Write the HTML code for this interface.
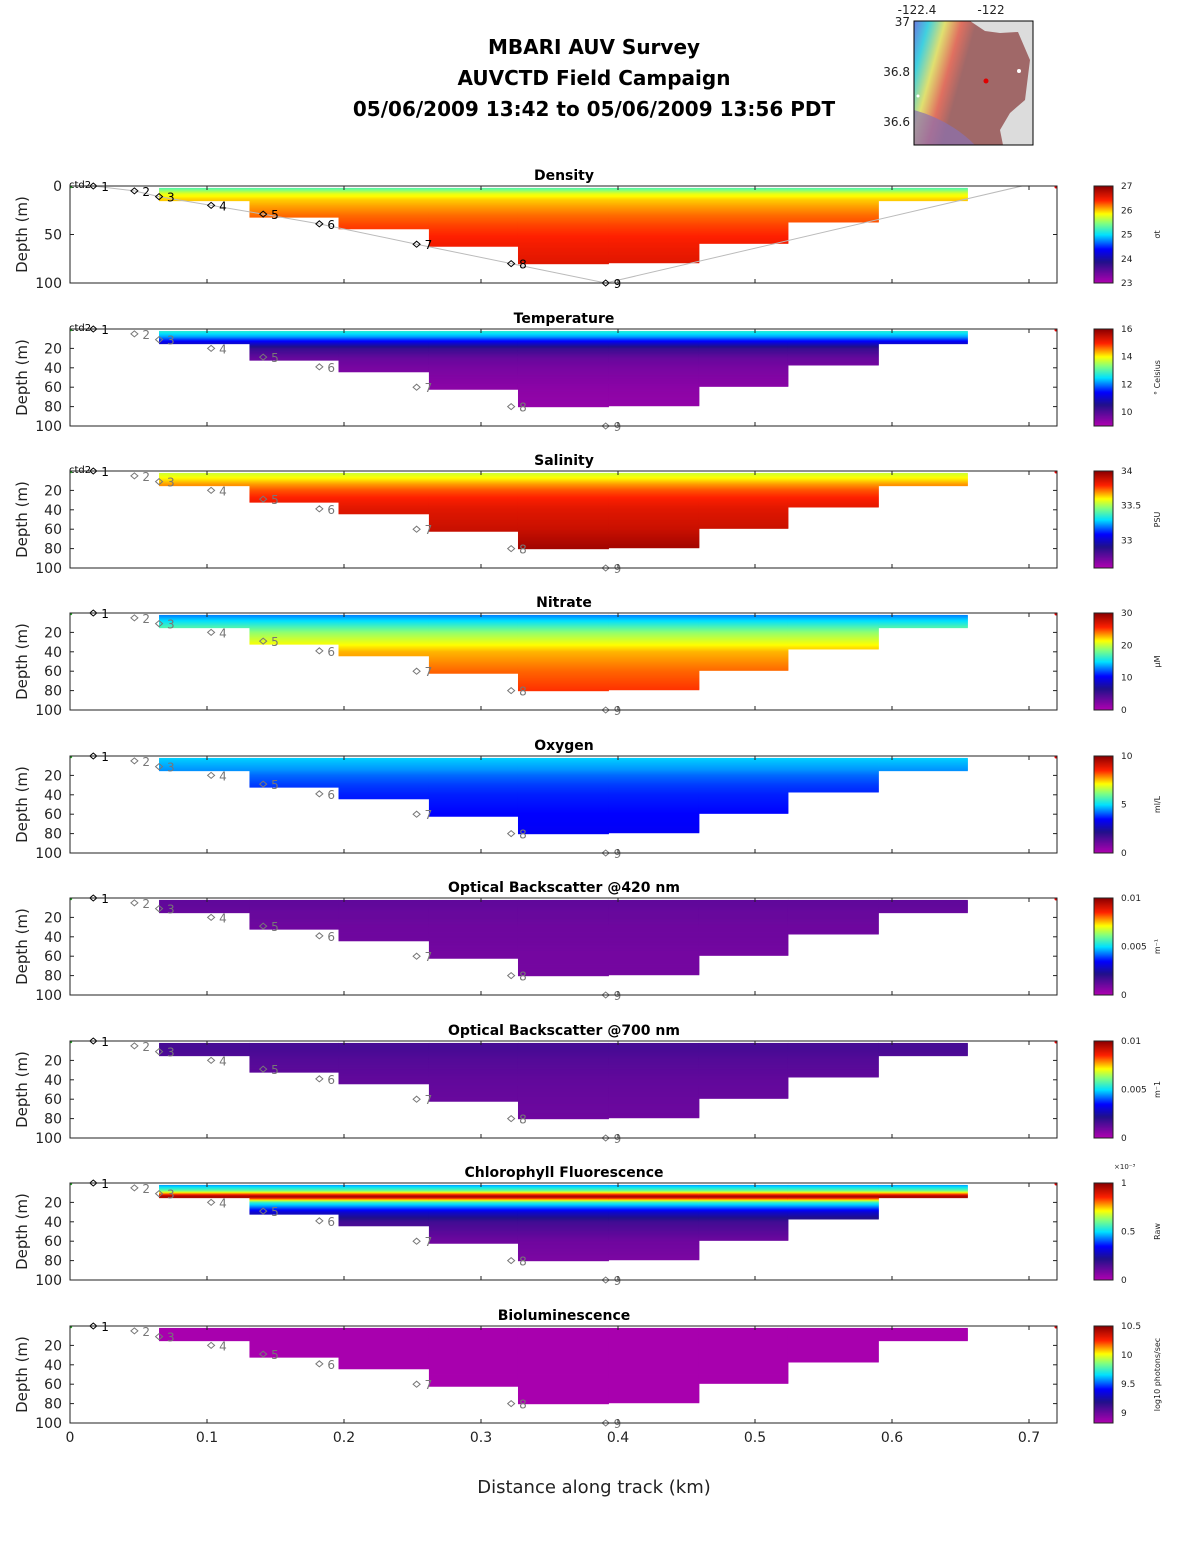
<!DOCTYPE html>
<html><head><meta charset="utf-8"><style>
body{margin:0;background:#fff;}
svg text{font-family:"DejaVu Sans","Liberation Sans",sans-serif;}
</style></head><body>
<svg id="fig" width="1188" height="1548" xmlns="http://www.w3.org/2000/svg">
<g font-weight="bold" font-size="20" text-anchor="middle">
<text x="594" y="54">MBARI AUV Survey</text>
<text x="594" y="85">AUVCTD Field Campaign</text>
<text x="594" y="116">05/06/2009 13:42  to 05/06/2009 13:56 PDT</text>
</g>
<g>
<defs>
<linearGradient id="mapg" x1="0" y1="0" x2="1" y2="0.3">
<stop offset="0" stop-color="#6a7ae0"/><stop offset="0.12" stop-color="#40d0e0"/><stop offset="0.25" stop-color="#e0e070"/><stop offset="0.38" stop-color="#e07060"/><stop offset="0.5" stop-color="#a06868"/><stop offset="1" stop-color="#a06868"/>
</linearGradient>
</defs>
<rect x="914" y="21" width="119" height="124" fill="#dcdcdc"/>
<path d="M914 21 L970 21 L985 31 L1000 33 L1018 32 L1030 60 L1025 100 L1010 113 L1000 130 L1003 145 L914 145 Z" fill="url(#mapg)"/>
<path d="M914 110 Q950 120 975 145 L914 145Z" fill="#8a70b0" opacity="0.7"/>
<rect x="914" y="21" width="119" height="124" fill="none" stroke="#000" stroke-width="1"/>
<circle cx="986" cy="81" r="2.5" fill="#e00000"/>
<circle cx="1019" cy="71" r="2" fill="#fff"/>
<circle cx="918" cy="96" r="1.5" fill="#fff"/>
<g font-size="12" fill="#222">
<text x="917" y="14" text-anchor="middle">-122.4</text>
<text x="991" y="14" text-anchor="middle">-122</text>
<text x="910" y="26" text-anchor="end">37</text>
<text x="910" y="76" text-anchor="end">36.8</text>
<text x="910" y="126" text-anchor="end">36.6</text>
</g>
</g>
<text x="594" y="1493" font-size="18" text-anchor="middle" fill="#222">Distance along track (km)</text>
</svg>
<script>
// ---- data ----
const colEdges=[0.065,0.131,0.196,0.262,0.327,0.393,0.459,0.524,0.590,0.655];
const colBottoms=[15,32,44,62,80,79,59,37,15];
const wpDist=[0.017,0.047,0.065,0.103,0.141,0.182,0.253,0.322,0.391];
const wpDepth=[0,5,11,20,29,39,60,80,100];
const trackEndDist=0.695;
const profDepths=[2,8,14,20,30,40,60,80];
const panelNames=["Density","Temperature","Salinity","Nitrate","Oxygen","Optical Backscatter @420 nm","Optical Backscatter @700 nm","Chlorophyll Fluorescence","Bioluminescence"];
const profDensity=[25.3,25.8,26.0,26.1,26.25,26.35,26.5,26.6];
const profTemp=[12.8,12.2,11.2,10.3,9.8,9.6,9.4,9.3];
const profSal=[33.55,33.62,33.7,33.76,33.82,33.86,33.9,33.97];
const profNitrate=[13,15,17,19,21,23,24.5,25.5];
const profOxygen=[4.9,4.7,4.5,4.2,3.9,3.7,3.5,3.4];
const profBb420=[0.0012,0.0012,0.0011,0.0011,0.001,0.001,0.0009,0.0009];
const profBb700=[0.0016,0.0016,0.0015,0.0014,0.0013,0.0012,0.0011,0.001];
const profChl=[0.45,0.6,1.0,0.55,0.3,0.17,0.1,0.08];
const profBio=[8.85,8.85,8.85,8.85,8.85,8.85,8.85,8.85];
const profiles=[profDensity,profTemp,profSal,profNitrate,profOxygen,profBb420,profBb700,profChl,profBio];
const cMin=[23,9,32.6,0,0,0,0,0,8.83];
const cMax=[27,16,34,30,10,0.01,0.01,1,10.5];
const cbTicks=[[23,24,25,26,27],[10,12,14,16],[33,33.5,34],[0,10,20,30],[0,5,10],[0,0.005,0.01],[0,0.005,0.01],[0,0.5,1],[9,9.5,10,10.5]];
const cbUnits=["σt","° Celsius","PSU","μM","ml/L","m⁻¹","m⁻1","Raw","log10 photons/sec"];
const xTicks=[0,0.1,0.2,0.3,0.4,0.5,0.6,0.7];
// ---- drawing ----
const NS="http://www.w3.org/2000/svg";
const svg=document.getElementById('fig');
function mk(tag,at,parent){const e=document.createElementNS(NS,tag);for(const k in at)e.setAttribute(k,at[k]);(parent||svg).appendChild(e);return e;}
const X0=70,KPX=(1029-70)/0.7,XR=1057;
const xs=d=>X0+d*KPX;
const stops=[[0,[176,0,176]],[0.22,[32,16,138]],[0.35,[0,0,255]],[0.5,[0,224,255]],[0.62,[128,255,128]],[0.72,[255,255,0]],[0.86,[255,32,0]],[1,[144,0,0]]];
function jet(t){t=Math.max(0,Math.min(1,t));for(let i=1;i<stops.length;i++){if(t<=stops[i][0]){const a=stops[i-1],b=stops[i];const f=(t-a[0])/(b[0]-a[0]);const c=a[1].map((v,j)=>Math.round(v+(b[1][j]-v)*f));return `rgb(${c})`;}}return 'rgb(144,0,0)';}
function interp(arr,d){if(d<=profDepths[0])return arr[0];for(let i=1;i<profDepths.length;i++){if(d<=profDepths[i]){const f=(d-profDepths[i-1])/(profDepths[i]-profDepths[i-1]);return arr[i-1]+(arr[i]-arr[i-1])*f;}}return arr[arr.length-1];}
const tops=[186,329,471,613,756,898,1041,1183,1326];
const PH=97;
panelNames.forEach((name,p)=>{
  const top=tops[p];const ys=d=>top+d*PH/100;
  const g=mk('g',{});
  
  
  const t=mk('text',{x:564,y:top-6,'font-size':14,'font-weight':'bold','text-anchor':'middle'},g);t.textContent=name;
  
  
  for(let c=0;c<colBottoms.length;c++){
    const x1=xs(colEdges[c]),x2=xs(colEdges[c+1]);
    for(let d=2;d<colBottoms[c];d+=1){
      const v=interp(profiles[p],d+0.5);
      const r=mk('rect',{x:x1,y:ys(d),width:x2-x1+0.5,height:PH/100+0.6,fill:jet((v-cMin[p])/(cMax[p]-cMin[p]))},g);
      
      
    }
  }
  let pts=wpDist.map((d,i)=>xs(d)+','+ys(wpDepth[i])).join(' ')+' '+xs(trackEndDist)+','+ys(0);
  if(p===0){const tr=mk('polyline',{points:pts,fill:'none',stroke:'#bbb','stroke-width':1},g);
    
    }
  wpDist.forEach((d,i)=>{
    const col=(p===0||i===0)?'#000':'#777';
    const m=mk('path',{d:`M${xs(d)-3.5},${ys(wpDepth[i])} l3.5,-3 l3.5,3 l-3.5,3z`,fill:'none',stroke:col,'stroke-width':1},g);
    
    
    const l=mk('text',{x:xs(d)+8,y:ys(wpDepth[i])+5,'font-size':12,fill:col},g);l.textContent=String(i+1);
    
    
  });
  if(p<3){const c2=mk('text',{x:69,y:top+2,'font-size':10,fill:'#000'},g);c2.textContent='ctd2';
    
    }
  mk('circle',{cx:XR-1,cy:top+1,r:1.5,fill:'#e00'},g);
  mk('circle',{cx:X0+1,cy:top+1,r:1.2,fill:'#2a2'},g);
  mk('rect',{x:X0,y:top,width:XR-X0,height:PH,fill:'none',stroke:'#222','stroke-width':1},g);
  xTicks.forEach(v=>{mk('line',{x1:xs(v),x2:xs(v),y1:top,y2:top+4,stroke:'#222'},g);mk('line',{x1:xs(v),x2:xs(v),y1:top+PH,y2:top+PH-4,stroke:'#222'},g);});
  const yt=p===0?[0,50,100]:[20,40,60,80,100];
  yt.forEach(v=>{mk('line',{x1:X0,x2:X0+4,y1:ys(v),y2:ys(v),stroke:'#222'},g);mk('line',{x1:XR,x2:XR-4,y1:ys(v),y2:ys(v),stroke:'#222'},g);
    const tt=mk('text',{x:62,y:ys(v)+5,'font-size':14,'text-anchor':'end',fill:'#222'},g);tt.textContent=String(v);
    
    });
  const yl=mk('text',{x:0,y:0,'font-size':15,'text-anchor':'middle',fill:'#222',transform:`translate(27,${top+PH/2}) rotate(-90)`},g);yl.textContent='Depth (m)';
  
  
  const cb=mk('g',{},g);
  
  
  for(let i=0;i<PH;i++){mk('rect',{x:1094,y:top+PH-i-1,width:19,height:1.5,fill:jet(i/(PH-1))},cb);}
  mk('rect',{x:1094,y:top,width:19,height:PH,fill:'none',stroke:'#222'},cb);
  cbTicks[p].forEach(v=>{const yy=top+PH-(v-cMin[p])/(cMax[p]-cMin[p])*PH;
    const ct=mk('text',{x:1121,y:yy+3,'font-size':9,fill:'#222'},cb);ct.textContent=String(v);
    
    });
  const un=mk('text',{x:0,y:0,'font-size':8,'text-anchor':'middle',fill:'#222',transform:`translate(1160,${top+PH/2}) rotate(-90)`},cb);un.textContent=cbUnits[p];
  
  
  if(p===7){const ex=mk('text',{x:1114,y:top-14,'font-size':7,fill:'#222'},cb);ex.textContent='×10⁻³';}
  if(p===8){xTicks.forEach(v=>{const xt=mk('text',{x:xs(v),y:top+PH+19,'font-size':14,'text-anchor':'middle',fill:'#222'},g);xt.textContent=String(v);
    
    });}
});
</script>
</body></html>
